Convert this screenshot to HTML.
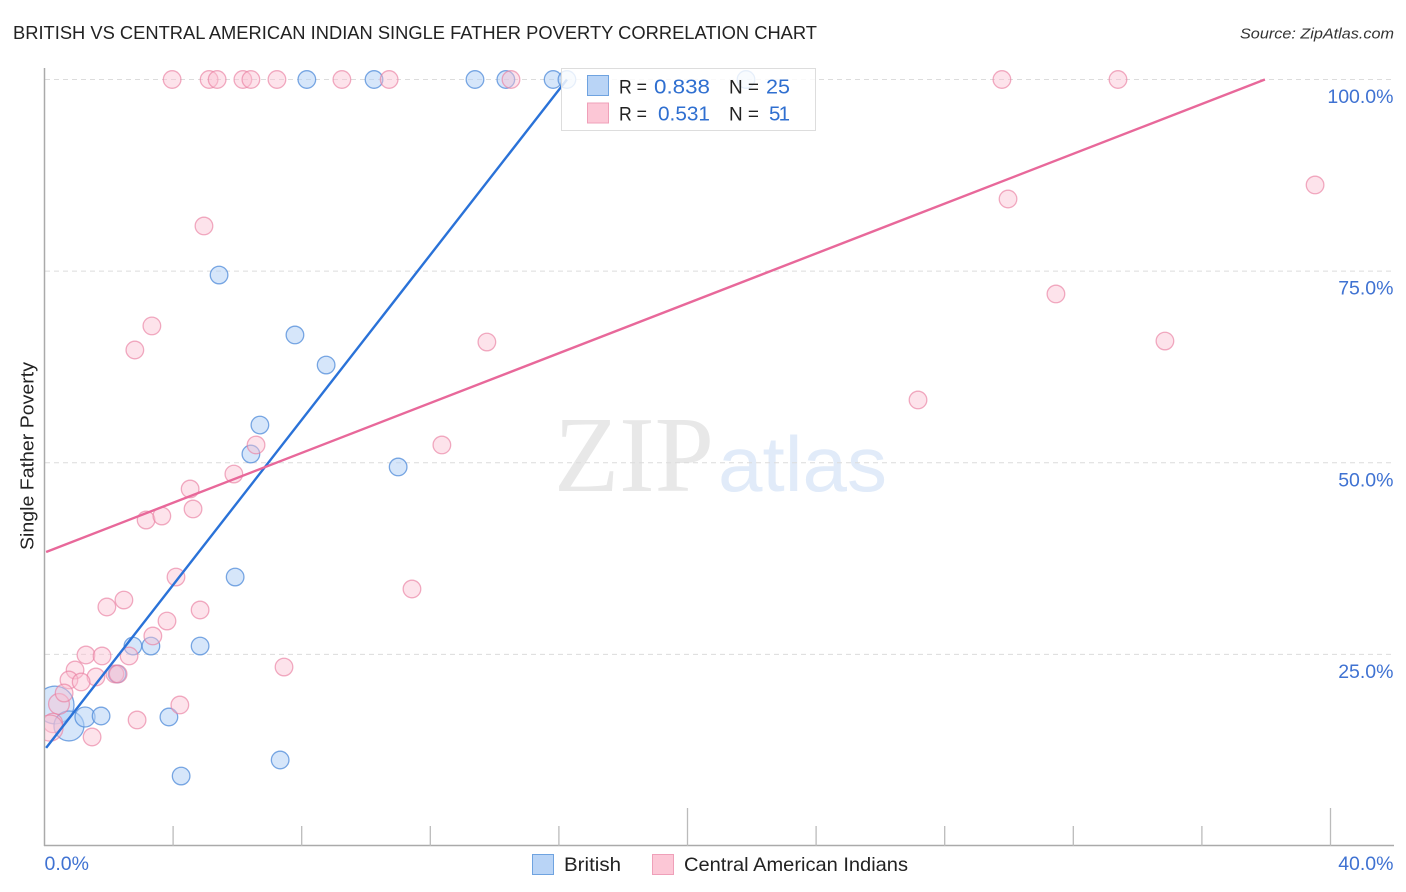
<!DOCTYPE html>
<html lang="en">
<head>
<meta charset="utf-8">
<title>British vs Central American Indian Single Father Poverty Correlation Chart</title>
<style>
html,body{margin:0;padding:0;background:#fff;width:1406px;height:892px;overflow:hidden}
svg{display:block;font-family:"Liberation Sans",sans-serif}
</style>
</head>
<body>
<svg id="chart" width="1406" height="892" viewBox="0 0 1406 892" xmlns="http://www.w3.org/2000/svg">
  <defs><clipPath id="plot-clip"><rect x="45" y="60" width="1349" height="786"/></clipPath></defs>
  <text x="13" y="39" font-size="18.5" fill="#222" textLength="804" lengthAdjust="spacingAndGlyphs">BRITISH VS CENTRAL AMERICAN INDIAN SINGLE FATHER POVERTY CORRELATION CHART</text>
  <text x="1394" y="38.500" font-size="15" font-style="italic" fill="#333" text-anchor="end" textLength="154" lengthAdjust="spacingAndGlyphs">Source: ZipAtlas.com</text>
  <g>
    <text x="554" y="491" font-family="'Liberation Serif',serif" font-size="108" fill="#e8e8e8" textLength="160" lengthAdjust="spacingAndGlyphs">ZIP</text>
    <text x="718" y="491" font-size="78" fill="#e1ebf9" textLength="169" lengthAdjust="spacingAndGlyphs">atlas</text>
  </g>
  <g id="grid"></g>
  <g id="axes"></g>
  <g id="points" clip-path="url(#plot-clip)"></g>
  <g id="trends"></g>
  <text transform="translate(33.500 456) rotate(-90)" font-size="18.500" fill="#222" text-anchor="middle" textLength="188" lengthAdjust="spacingAndGlyphs">Single Father Poverty</text>
  <g>
    <rect x="561.500" y="68.500" width="254" height="62" fill="#fff" fill-opacity="0.82" stroke="#ddd" stroke-width="1"/>
    <rect x="587.500" y="75.500" width="21" height="20" fill="#b9d4f6" stroke="#6fa3e0" stroke-width="1"/>
    <rect x="587.500" y="103" width="21" height="20" fill="#fcc7d6" stroke="#efa0b9" stroke-width="1"/>
    <g font-size="19" fill="#222">
      <text x="619" y="93.500" textLength="28" lengthAdjust="spacingAndGlyphs">R =</text>
      <text x="729" y="93.500" textLength="30" lengthAdjust="spacingAndGlyphs">N =</text>
      <text x="619" y="120.500" textLength="28" lengthAdjust="spacingAndGlyphs">R =</text>
      <text x="729" y="120.500" textLength="30" lengthAdjust="spacingAndGlyphs">N =</text>
    </g>
    <g font-size="20.500" fill="#2f6fd0">
      <text x="654" y="93.500" textLength="56" lengthAdjust="spacingAndGlyphs">0.838</text>
      <text x="766" y="93.500" textLength="24" lengthAdjust="spacingAndGlyphs">25</text>
      <text x="658" y="120.500" textLength="52" lengthAdjust="spacingAndGlyphs">0.531</text>
      <text x="769" y="120.500" textLength="21" lengthAdjust="spacing">51</text>
    </g>
  </g>
  <g>
    <rect x="532.500" y="854.500" width="21" height="20" fill="#b9d4f6" stroke="#6fa3e0" stroke-width="1"/>
    <text x="564" y="871" font-size="19.500" fill="#222" textLength="57" lengthAdjust="spacingAndGlyphs">British</text>
    <rect x="652.500" y="854.500" width="21" height="20" fill="#fcc7d6" stroke="#efa0b9" stroke-width="1"/>
    <text x="684" y="871" font-size="19.500" fill="#222" textLength="224" lengthAdjust="spacingAndGlyphs">Central American Indians</text>
  </g>
</svg>
<script>
var britishX = [0.33,0.76,1.26,1.76,2.75,3.31,2.26,3.87,4.25,4.84,5.93,6.42,6.70,5.43,7.79,8.76,7.33,11.00,8.16,10.25,13.39,14.35,15.82,16.25,21.82];
var britishY = [18.40,15.66,16.83,16.96,26.09,26.09,22.44,16.83,9.13,26.09,35.09,51.14,54.92,74.49,66.67,62.75,11.22,49.45,100,100,100,100,100,100,100];
var britishWeight = [4.6,2.9,1.3,1,1,1,1,1,1,1,1,1,1,1,1,1,1,1,1,1,1,1,1,1,1];
var indiansX = [3.97,5.12,5.37,6.17,6.42,7.23,9.25,10.72,14.51,29.78,33.39,4.96,3.34,2.81,13.76,12.36,6.58,5.89,4.53,4.62,3.16,3.65,11.43,4.09,2.47,1.94,4.84,3.81,3.37,1.29,1.79,2.63,0.95,1.60,0.76,1.14,2.19,2.29,7.45,4.21,2.88,1.48,0.45,0.61,0.26,0.17,39.52,29.97,31.46,34.85,27.17];
var indiansY = [100,100,100,100,100,100,100,100,100,100,100,80.89,67.85,64.71,65.75,52.32,52.32,48.53,46.58,43.97,42.53,43.05,33.53,35.09,32.09,31.18,30.79,29.35,27.40,24.92,24.79,24.79,22.96,22.05,21.66,21.40,22.44,22.44,23.35,18.40,16.44,14.22,18.53,19.96,16.05,15.39,86.24,84.41,72.02,65.88,58.19];
var indiansWeight = [1,1,1,1,1,1,1,1,1,1,1,1,1,1,1,1,1,1,1,1,1,1,1,1,1,1,1,1,1,1,1,1,1,1,1,1,1,1,1,1,1,1,1.4,1,1.2,2.2,1,1,1,1,1];
var britishTrendX = [0.05,16.25];
var britishTrendY = [12.80,100];
var indiansTrendX = [0.05,37.96];
var indiansTrendY = [38.36,100];
var yTicks = [25,50,75,100];
var yTickLabels = ["25.0%","50.0%","75.0%","100.0%"];
var xTicks = [4,8,12,16,20,24,28,32,36,40];
var xMajorTicks = [20,40];
var xEndTicks = [0,40];
var xEndLabels = ["0.0%","40.0%"];

var NS = "http://www.w3.org/2000/svg";
function xScale(v){ return 44.5 + v * 32.15; }
function yScale(v){ return 846 - v * 7.665; }
function radius(w){ return 8.8 * Math.sqrt(w); }
function make(tag, parentId, attrs){
  var el = document.createElementNS(NS, tag);
  for (var k in attrs) el.setAttribute(k, attrs[k]);
  document.getElementById(parentId).appendChild(el);
  return el;
}

yTicks.forEach(function(t, i){
  var line = make("line", "grid", {x1:45, x2:1394, y1:yScale(t), y2:yScale(t), stroke:"#dcdcdc", "stroke-width":1, "stroke-dasharray":"5 4"});
  
  
  var label = make("text", "axes", {x:1393.5, y:yScale(t)+23.5, "font-size":19.5, fill:"#3f72d2", "text-anchor":"end"});
  
  
  label.textContent = yTickLabels[i];
});

var leftAxis = make("line", "axes", {x1:44.5, x2:44.5, y1:68, y2:846, stroke:"#aaa", "stroke-width":1.5});


var bottomAxis = make("line", "axes", {x1:44, x2:1394, y1:845.5, y2:845.5, stroke:"#aaa", "stroke-width":1.5});



xTicks.forEach(function(t){
  var top = xMajorTicks.indexOf(t) >= 0 ? 808 : 826;
  var tick = make("line", "axes", {x1:xScale(t), x2:xScale(t), y1:top, y2:846, stroke:"#bbb", "stroke-width":1.3});
  
  
});

xEndTicks.forEach(function(t, i){
  var label = make("text", "axes", {x: i === 0 ? xScale(t) : 1393.5, y:870, "font-size":19.5, fill:"#3f72d2", "text-anchor": i === 0 ? "start" : "end"});
  
  
  label.textContent = xEndLabels[i];
});

britishX.forEach(function(v, i){
  var c = make("circle", "points", {cx:xScale(v), cy:yScale(britishY[i]), r:radius(britishWeight[i]), fill:"#b5d2f5", "fill-opacity":0.55, stroke:"#4f8bd9", "stroke-opacity":0.75, "stroke-width":1.3});
  
  
});
indiansX.forEach(function(v, i){
  var c = make("circle", "points", {cx:xScale(v), cy:yScale(indiansY[i]), r:radius(indiansWeight[i]), fill:"#fbc2d3", "fill-opacity":0.45, stroke:"#ea7fa1", "stroke-opacity":0.65, "stroke-width":1.3});
  
  
});

var blueLine = make("line", "trends", {x1:xScale(britishTrendX[0]), y1:yScale(britishTrendY[0]), x2:xScale(britishTrendX[1]), y2:yScale(britishTrendY[1]), stroke:"#2a72d8", "stroke-width":2.4});


var pinkLine = make("line", "trends", {x1:xScale(indiansTrendX[0]), y1:yScale(indiansTrendY[0]), x2:xScale(indiansTrendX[1]), y2:yScale(indiansTrendY[1]), stroke:"#e8689a", "stroke-width":2.4});


</script>
</body>
</html>
